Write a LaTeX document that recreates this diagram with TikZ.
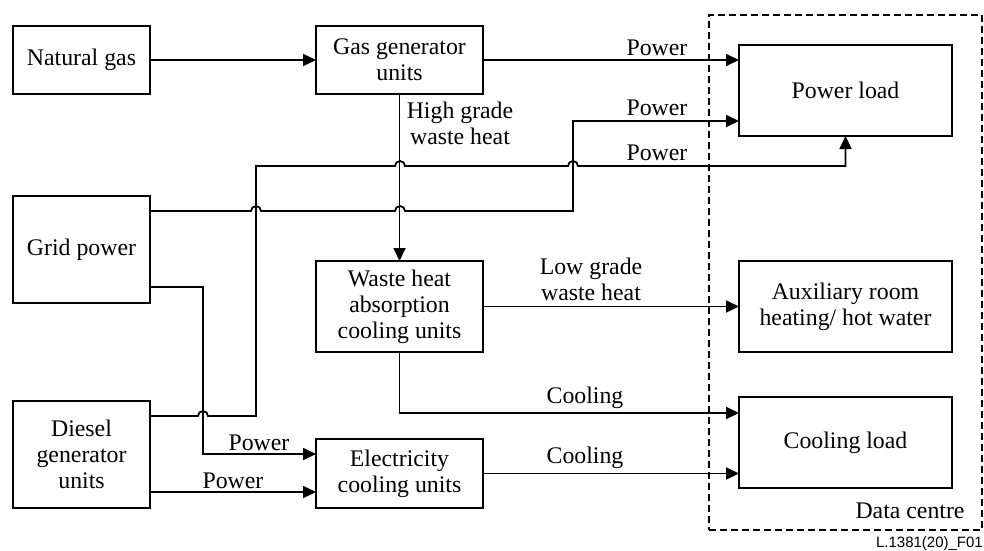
\documentclass[tikz,border=0pt]{standalone}
\usepackage{fontspec}
\setmainfont{Liberation Serif}
\newfontfamily\labelsans{Liberation Sans}
\usetikzlibrary{arrows.meta}
\begin{document}
\begin{tikzpicture}[x=1pt,y=-1pt,
  box/.style={draw,line width=1.8pt,rectangle,inner sep=0pt,outer sep=0pt,align=center,
    font=\fontsize{23.8}{26}\selectfont},
  lbl/.style={inner sep=0pt,anchor=base,font=\fontsize{23.8}{26}\selectfont},
  lbltwo/.style={inner sep=0pt,anchor=center,align=center,font=\fontsize{23.8}{26}\selectfont},
  conn/.style={line width=1.8pt},
  arr/.style={conn,-{Triangle[length=13pt,width=12pt]}},
  frame/.style={draw,line width=1.4pt,dash pattern=on 7pt off 4pt,inner sep=0pt,outer sep=0pt}]
\useasboundingbox (0,0) rectangle (984,550);

% boxes
\node[box,minimum width=137,minimum height=68] (ng) at (81.5,60) {Natural gas};
\node[box,minimum width=167,minimum height=68] (gg) at (399.5,60) {Gas generator\\units};
\node[box,minimum width=137,minimum height=107] (grid) at (81.5,249.5) {Grid power};
\node[box,minimum width=167,minimum height=91] (wh) at (399.5,306.5) {Waste heat\\absorption\\cooling units};
\node[box,minimum width=137,minimum height=107] (dg) at (81.5,454.5) {Diesel\\generator\\units};
\node[box,minimum width=167,minimum height=69] (ec) at (399.5,473.5) {Electricity\\cooling units};
\node[box,minimum width=213,minimum height=91] (pl) at (845.5,90.5) {Power load};
\node[box,minimum width=213,minimum height=91] (aux) at (845.5,306.5) {Auxiliary room\\heating/ hot water};
\node[box,minimum width=213,minimum height=91] (cl) at (845.5,442.5) {Cooling load};

% data centre frame
\node[frame,minimum width=273,minimum height=515] (dc) at (845.5,272.5) {};
\node[lbl] (dclbl) at (910,518) {Data centre};
\node[inner sep=0pt,anchor=base east,font=\labelsans\fontsize{15}{17}\selectfont] (fig) at (983,547) {L.1381(20)\_F01};

% connectors
\draw[arr] (ng) -- (gg);
\draw[arr] (gg.east) -- (gg.east -| pl.west);
\node[lbl] (p1) at (657,55) {Power};

\draw[arr] (gg) -- (wh);
\node[lbltwo] (hg) at (460,123) {High grade\\waste heat};

% grid power -> power load
\draw[arr] ([yshift=-15pt]grid.north east) -- (251,211)
  arc[start angle=180,end angle=0,radius=5pt] -- (395,211)
  arc[start angle=180,end angle=0,radius=5pt] -- (573,211) -- (573,121)
  -- (pl.west |- 0,121);
\node[lbl] (p2) at (657,115) {Power};

% diesel -> power load
\draw[arr] ([yshift=-15pt]dg.north east) -- (198,416)
  arc[start angle=180,end angle=0,radius=5pt] -- (256,416) -- (256,166) -- (395,166)
  arc[start angle=180,end angle=0,radius=5pt] -- (568,166)
  arc[start angle=180,end angle=0,radius=5pt] -- (pl.south |- 0,166) -- (pl.south);
\node[lbl] (p3) at (657,160) {Power};

% grid power -> electricity cooling
\draw[arr] ([yshift=16pt]grid.south east) -- (203,287) -- (203,454) -- (ec.west |- 0,454);
\node[lbl] (p4) at (259,450) {Power};

% diesel -> electricity cooling
\draw[arr] ([yshift=16pt]dg.south east) -- (ec.west |- 0,492);
\node[lbl] (p5) at (233,488) {Power};

% waste heat -> auxiliary
\draw[arr] (wh) -- (aux);
\node[lbltwo] (lg) at (591,279.5) {Low grade\\waste heat};

% waste heat -> cooling load
\draw[arr] (wh.south) -- (399.5,413) -- (cl.west |- 0,413);
\node[lbl] (c1) at (585,403) {Cooling};

% electricity -> cooling load
\draw[arr] (ec.east) -- (cl.west |- ec.east);
\node[lbl] (c2) at (585,463) {Cooling};
\end{tikzpicture}
\end{document}
